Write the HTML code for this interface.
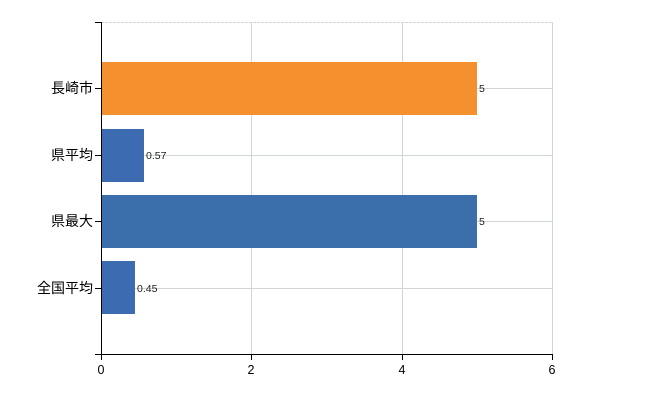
<!DOCTYPE html>
<html><head><meta charset="utf-8"><style>
html,body{margin:0;padding:0;background:#fff;width:650px;height:400px;overflow:hidden}
svg text{font-family:"Liberation Sans","Noto Sans CJK JP",sans-serif}
</style></head><body>
<svg width="650" height="400" xmlns="http://www.w3.org/2000/svg">
<g stroke="#d0d6d6" stroke-width="1">
<line x1="101" y1="22.5" x2="552" y2="22.5" stroke-dasharray="3,1"/>
<line x1="101" y1="88.5" x2="552" y2="88.5"/>
<line x1="101" y1="155.5" x2="552" y2="155.5"/>
<line x1="101" y1="221.5" x2="552" y2="221.5"/>
<line x1="101" y1="288.5" x2="552" y2="288.5"/>
<line x1="251.5" y1="22" x2="251.5" y2="354"/>
<line x1="402.5" y1="22" x2="402.5" y2="354"/>
<line x1="552.5" y1="22" x2="552.5" y2="354"/>
</g>
<rect x="101" y="62" width="376" height="53" fill="#f5902f"/>
<rect x="101" y="129" width="43" height="53" fill="#3c6bb2"/>
<rect x="101" y="195" width="376" height="53" fill="#3a6fac"/>
<rect x="101" y="261" width="34" height="53" fill="#3c6bb2"/>
<g font-size="10.5" fill="#222">
<text x="479" y="92">5</text>
<text x="146" y="159">0.57</text>
<text x="479" y="225">5</text>
<text x="137" y="292">0.45</text>
</g>
<g stroke="#000" stroke-width="1">
<line x1="101.5" y1="22" x2="101.5" y2="354"/>
<line x1="95" y1="22.5" x2="101" y2="22.5"/>
<line x1="95" y1="354.5" x2="552" y2="354.5"/>
<line x1="95" y1="88.5" x2="101" y2="88.5"/>
<line x1="95" y1="155.5" x2="101" y2="155.5"/>
<line x1="95" y1="221.5" x2="101" y2="221.5"/>
<line x1="95" y1="288.5" x2="101" y2="288.5"/>
<line x1="101.5" y1="354" x2="101.5" y2="360"/>
<line x1="251.5" y1="354" x2="251.5" y2="360"/>
<line x1="402.5" y1="354" x2="402.5" y2="360"/>
<line x1="552.5" y1="354" x2="552.5" y2="360"/>
</g>
<g font-size="14" fill="#000" text-anchor="end">
<text x="93" y="93">長崎市</text>
<text x="93" y="160">県平均</text>
<text x="93" y="226">県最大</text>
<text x="93" y="293">全国平均</text>
</g>
<g font-size="12.5" fill="#000" text-anchor="middle">
<text x="101" y="374">0</text>
<text x="251" y="374">2</text>
<text x="402" y="374">4</text>
<text x="552" y="374">6</text>
</g>
</svg>
</body></html>
